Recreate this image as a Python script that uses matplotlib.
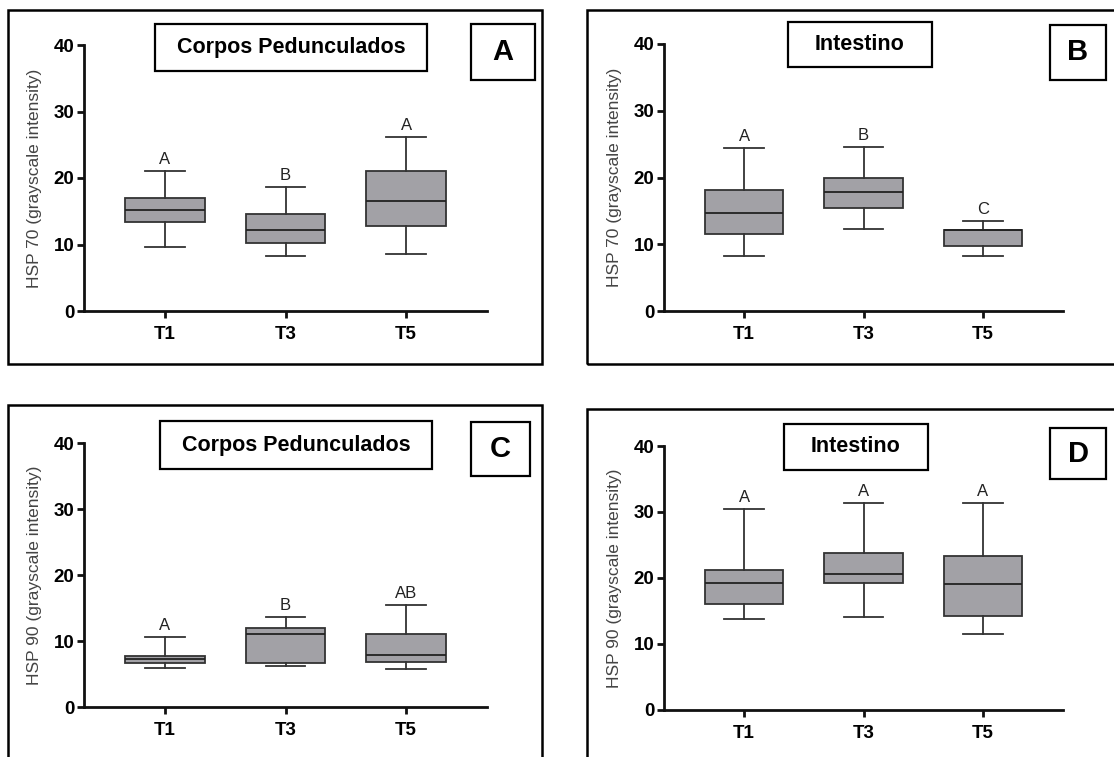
import matplotlib
matplotlib.use("Agg")
import matplotlib.pyplot as plt
from matplotlib.patches import Rectangle

plt.rcParams['font.family'] = ['Liberation Sans', 'DejaVu Sans']

W, H = 1114, 757

groups = ["T1", "T3", "T5"]
yticks = [0, 10, 20, 30, 40]

# Panel A: HSP 70, Corpos Pedunculados
a_low = [9.6, 8.2, 8.5]
a_q1 = [13.4, 10.2, 12.8]
a_med = [15.2, 12.2, 16.6]
a_q3 = [17.0, 14.6, 21.0]
a_high = [21.1, 18.6, 26.1]
a_letters = ["A", "B", "A"]

# Panel B: HSP 70, Intestino
b_low = [8.2, 12.3, 8.3]
b_q1 = [11.5, 15.4, 9.8]
b_med = [14.7, 17.8, 12.2]
b_q3 = [18.1, 20.0, 12.2]
b_high = [24.4, 24.6, 13.5]
b_letters = ["A", "B", "C"]

# Panel C: HSP 90, Corpos Pedunculados
c_low = [5.9, 6.2, 5.7]
c_q1 = [6.6, 6.6, 6.8]
c_med = [7.2, 11.1, 7.9]
c_q3 = [7.7, 11.9, 11.1]
c_high = [10.6, 13.7, 15.5]
c_letters = ["A", "B", "AB"]

# Panel D: HSP 90, Intestino
d_low = [13.8, 14.1, 11.5]
d_q1 = [16.1, 19.2, 14.2]
d_med = [19.3, 20.6, 19.1]
d_q3 = [21.2, 23.8, 23.4]
d_high = [30.4, 31.4, 31.4]
d_letters = ["A", "A", "A"]

fig = plt.figure(figsize=(W / 100, H / 100), dpi=100)


def fig_rect(x0, y0, x1, y1, lw=1.6):
    r = Rectangle((x0 / W, 1 - y1 / H), (x1 - x0) / W, (y1 - y0) / H,
                  transform=fig.transFigure, fill=False, edgecolor='black',
                  linewidth=lw, zorder=5)
    fig.patches.append(r)


def panel(ax_px, frame_px, title, title_px, letter, letter_px, ylabel,
          low, q1, med, q3, high, letters):
    x0, y_top, x1, y_bot = ax_px
    ax = fig.add_axes([x0 / W, 1 - y_bot / H, (x1 - x0) / W, (y_bot - y_top) / H])
    stats = []
    for i, g in enumerate(groups):
        stats.append(dict(label=g, whislo=low[i], q1=q1[i], med=med[i],
                          q3=q3[i], whishi=high[i], fliers=[]))
    pos = [1, 2, 3]
    ax.bxp(stats, positions=pos, widths=0.66, patch_artist=True,
           showfliers=False,
           boxprops=dict(facecolor='#a2a1a6', edgecolor='#333333', linewidth=1.3),
           medianprops=dict(color='#222222', linewidth=1.3),
           whiskerprops=dict(color='#333333', linewidth=1.3),
           capprops=dict(color='#333333', linewidth=1.3),
           capwidths=0.33)
    for i, t in enumerate(letters):
        ax.text(pos[i], high[i] + 0.6, t, ha='center', va='bottom',
                fontsize=12, color='#222222')
    ax.set_xlim(0.33, 3.67)
    ax.set_ylim(0, 40)
    ax.set_yticks(yticks)
    ax.set_xticks(pos)
    ax.set_xticklabels(groups)
    for s in ['top', 'right']:
        ax.spines[s].set_visible(False)
    for s in ['left', 'bottom']:
        ax.spines[s].set_linewidth(2.0)
        ax.spines[s].set_color('#111111')
    ax.tick_params(axis='both', direction='out', length=5, width=2.0,
                   labelsize=13.5, color='#111111')
    for lab in ax.get_xticklabels() + ax.get_yticklabels():
        lab.set_fontweight('bold')
    ax.tick_params(axis='y', pad=2)
    ax.tick_params(axis='x', pad=6)
    ax.set_ylabel(ylabel, fontsize=12.5, color='#444444')
    ax.yaxis.set_label_coords(-0.105, 0.5)
    ax.patch.set_alpha(0)

    fig_rect(*frame_px, lw=1.8)
    tx0, ty0, tx1, ty1 = title_px
    fig_rect(tx0, ty0, tx1, ty1, lw=1.6)
    fig.text((tx0 + tx1) / 2 / W, 1 - (ty0 + ty1) / 2 / H, title,
             ha='center', va='center', fontsize=15.5, fontweight='bold')
    lx0, ly0, lx1, ly1 = letter_px
    fig_rect(lx0, ly0, lx1, ly1, lw=1.6)
    fig.text((lx0 + lx1) / 2 / W, 1 - (ly0 + ly1) / 2 / H, letter,
             ha='center', va='center', fontsize=21, fontweight='bold')
    return ax


panel((84, 45, 487, 311), (8, 10, 542, 364), "Corpos Pedunculados",
      (155, 24, 427, 71), "A", (471, 24, 535, 80),
      "HSP 70 (grayscale intensity)", a_low, a_q1, a_med, a_q3, a_high, a_letters)
panel((664, 44, 1063, 311), (587, 10, 1120, 364), "Intestino",
      (788, 22, 932, 67), "B", (1050, 25, 1106, 80),
      "HSP 70 (grayscale intensity)", b_low, b_q1, b_med, b_q3, b_high, b_letters)
panel((84, 443, 487, 707), (8, 405, 542, 770), "Corpos Pedunculados",
      (160, 421, 432, 469), "C", (471, 422, 530, 476),
      "HSP 90 (grayscale intensity)", c_low, c_q1, c_med, c_q3, c_high, c_letters)
panel((664, 446, 1063, 710), (587, 409, 1120, 770), "Intestino",
      (784, 424, 928, 470), "D", (1050, 428, 1106, 479),
      "HSP 90 (grayscale intensity)", d_low, d_q1, d_med, d_q3, d_high, d_letters)

fig.savefig("out.png", dpi=100, facecolor='white')
